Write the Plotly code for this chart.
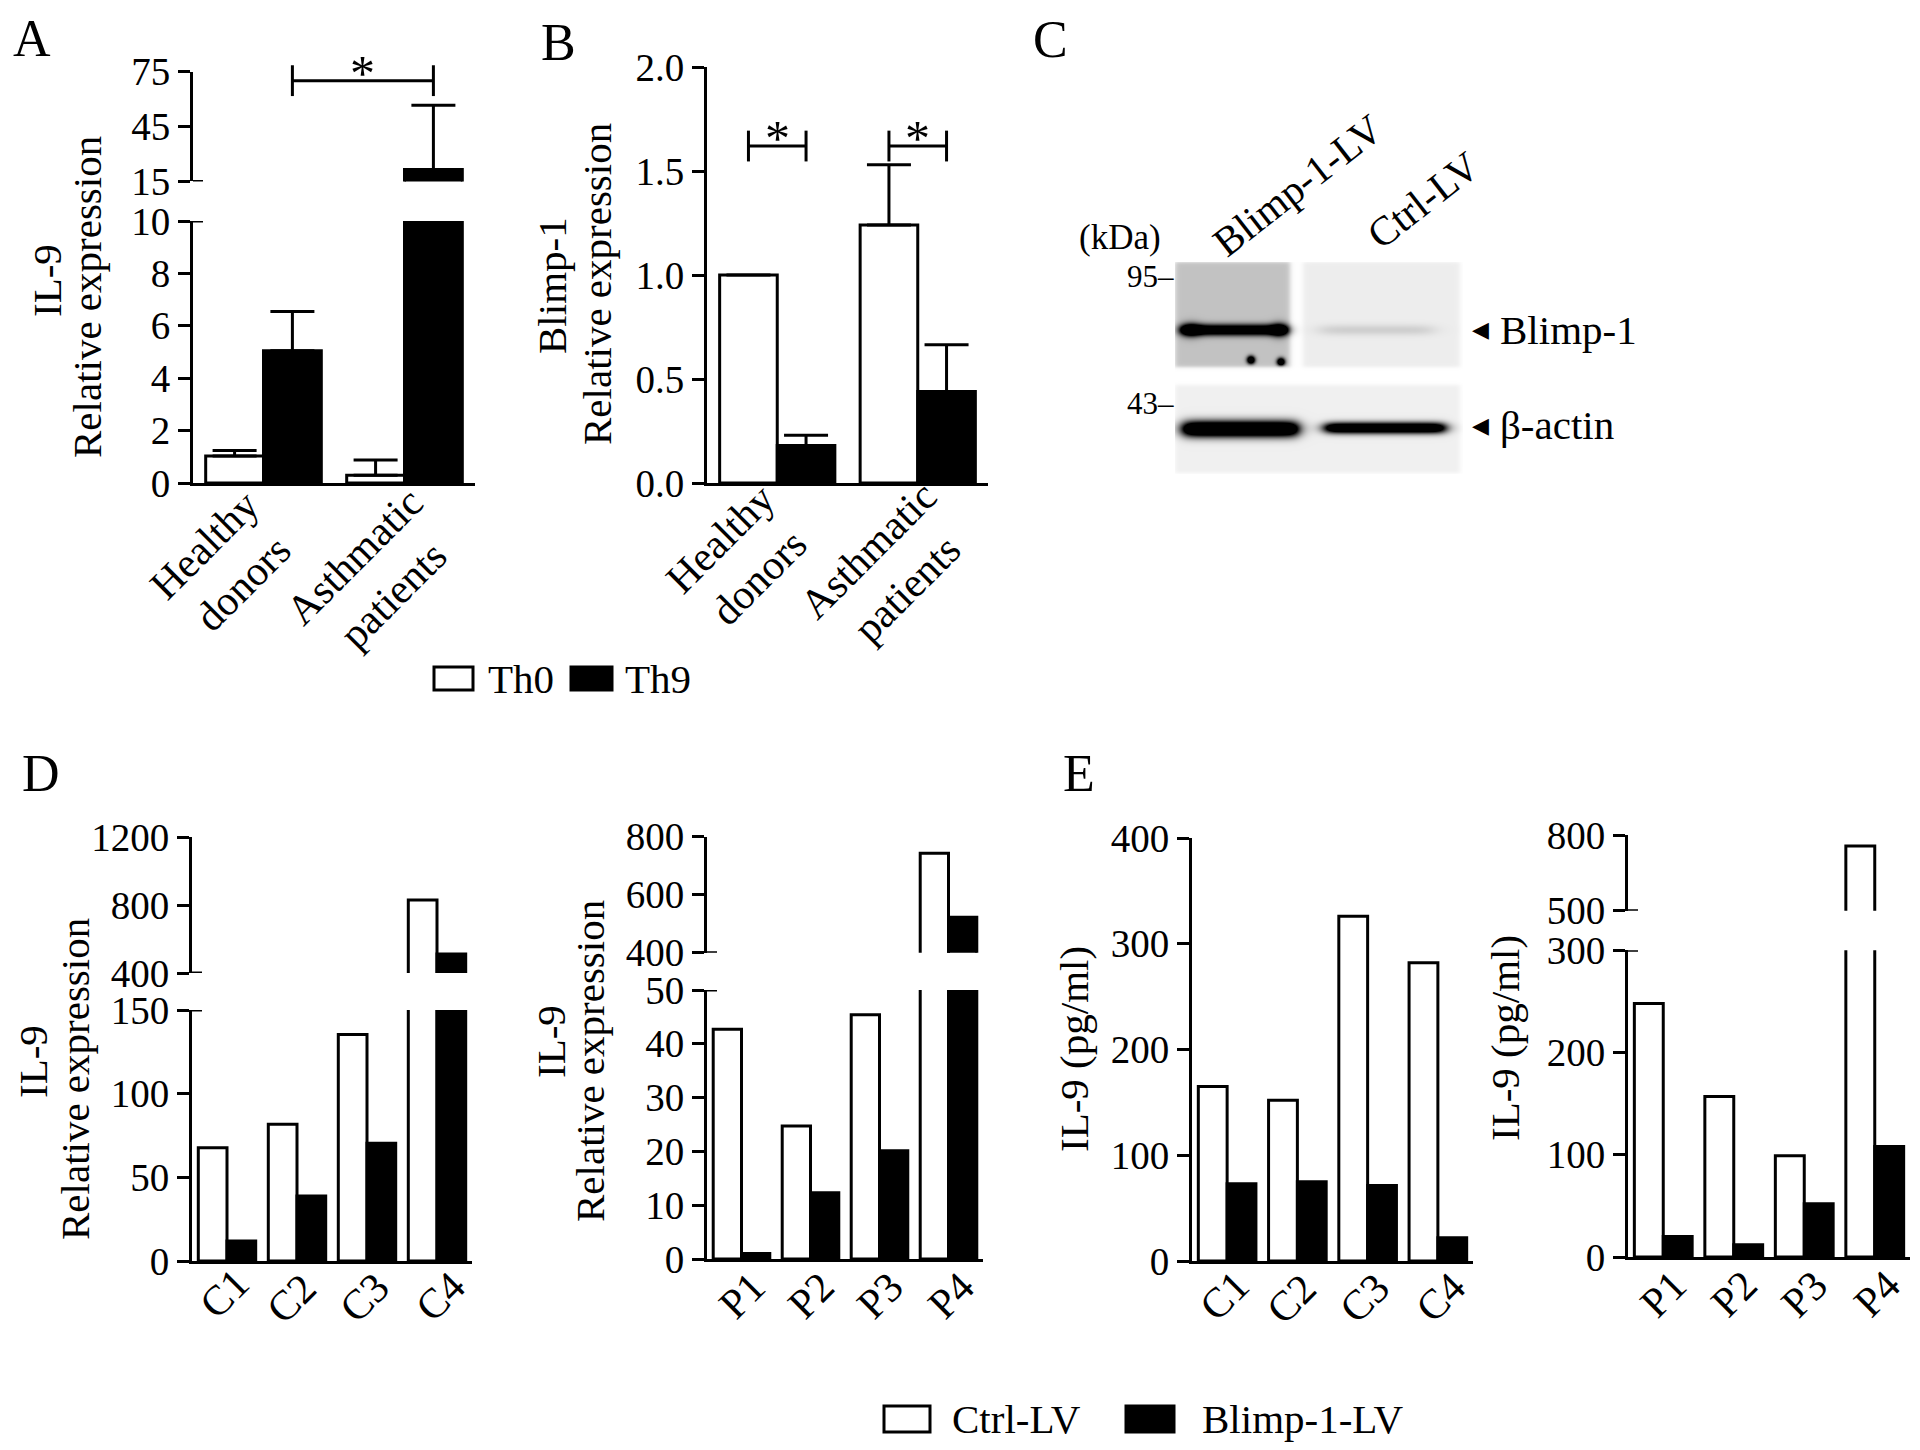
import numpy as np
import plotly.graph_objects as go

# The page body adds an 8 px margin, so the figure is sized to fill the
# 1920x1450 window exactly and all screen positions are converted below.
SCREEN_W, SCREEN_H = 1920, 1450
OFF = 8
W, H = SCREEN_W - 2 * OFF, SCREEN_H - 2 * OFF
FONT = "Liberation Serif"

# ---------------- data ----------------
groups_AB = ["Healthy<br>donors", "Asthmatic<br>patients"]
il9_th0 = [1.03, 0.30]
il9_th0_top = [1.24, 0.88]
il9_th9 = [5.05, 21.5]
il9_th9_top = [6.55, 56.6]
sig_A_y = 70

blimp_th0 = [1.0, 1.24]
blimp_th0_top = [1.0, 1.53]
blimp_th9 = [0.18, 0.44]
blimp_th9_top = [0.23, 0.665]
sig_B_y = 1.62

controls = ["C1", "C2", "C3", "C4"]
patients = ["P1", "P2", "P3", "P4"]
D_ctrl_C = [67.7, 81.7, 135.3, 829]
D_blimp_C = [12.0, 38.8, 70.3, 512]
D_ctrl_P = [42.7, 24.7, 45.4, 742]
D_blimp_P = [1.0, 12.3, 20.1, 522]
E_ctrl_C = [165, 152, 326, 282]
E_blimp_C = [73, 75, 71.5, 22]
E_ctrl_P = [248, 157, 99, 758]
E_blimp_P = [20, 12, 52, 108]

blot_lanes = ["Blimp-1-LV", "Ctrl-LV"]
blot_blimp1 = [0.95, 0.12]
blot_actin = [1.0, 0.9]

# ---------------- helpers ----------------
def px(sx):
    return (sx - OFF) / W

def py(sy):
    return 1 - (sy - OFF) / H

def dom_x(a, b):
    return [px(a), px(b)]

def dom_y(top, bottom):
    return [py(bottom), py(top)]

TICK = 39
LAB = 42
TITLE = 41
tickfont = dict(family=FONT, size=TICK, color="black")

def yax(domain_px, rng, tickvals, anchor, fmt=None):
    d = dict(domain=dom_y(*domain_px), range=rng, tickvals=tickvals, anchor=anchor,
             showline=True, linewidth=3, linecolor="black", ticks="outside", ticklen=12,
             tickwidth=3, tickcolor="black", tickfont=tickfont, showgrid=False,
             zeroline=False, fixedrange=True, automargin=False)
    if fmt:
        d["tickformat"] = fmt
    return d

def xax(domain_px, cats, anchor):
    return dict(domain=dom_x(*domain_px), range=[-0.5, len(cats) - 0.5],
                tickvals=list(range(len(cats))), showticklabels=False, anchor=anchor,
                showline=True, linewidth=3, linecolor="black", ticks="",
                showgrid=False, zeroline=False, fixedrange=True, automargin=False)

BAR_W = 0.41
fig = go.Figure()

def bars(xa, ya, vals, fill, top=None):
    n = len(vals)
    offset = -BAR_W if fill == "white" else 0
    tr = go.Bar(x=list(range(n)), y=vals, width=BAR_W, offset=offset,
                xaxis=xa, yaxis=ya,
                marker=dict(color=fill, line=dict(color="black", width=3)),
                showlegend=False, hoverinfo="skip")
    if top is not None:
        tr.error_y = dict(type="data", symmetric=False,
                          array=[t - v for t, v in zip(top, vals)],
                          arrayminus=[0] * n, color="black", thickness=3, width=22)
    fig.add_trace(tr)

def bracket(xa, ya, x0, x1, y):
    fig.add_trace(go.Scatter(x=[x0, x1], y=[y, y], xaxis=xa, yaxis=ya,
                             mode="lines+markers", line=dict(color="black", width=3),
                             marker=dict(symbol="line-ns", size=22,
                                         line=dict(color="black", width=3)),
                             cliponaxis=False, showlegend=False, hoverinfo="skip"))
    fig.add_annotation(x=(x0 + x1) / 2, y=y, xref=xa, yref=ya, text="*",
                       showarrow=False, font=dict(family=FONT, size=50, color="black"),
                       yanchor="middle", yshift=8)

half = BAR_W / 2

# ---- Panel A (broken axis) ----
for ya in ["y", "y2"]:
    bars("x", ya, il9_th0, "white", il9_th0_top)
    bars("x", ya, il9_th9, "black", il9_th9_top)
bracket("x", "y2", 0 + half, 1 + half, sig_A_y)

# ---- Panel B ----
bars("x2", "y3", blimp_th0, "white", blimp_th0_top)
bars("x2", "y3", blimp_th9, "black", blimp_th9_top)
bracket("x2", "y3", 0 - half, 0 + half, sig_B_y)
bracket("x2", "y3", 1 - half, 1 + half, sig_B_y)

# ---- Panel D ----
for ya in ["y4", "y5"]:
    bars("x3", ya, D_ctrl_C, "white")
    bars("x3", ya, D_blimp_C, "black")
for ya in ["y6", "y7"]:
    bars("x4", ya, D_ctrl_P, "white")
    bars("x4", ya, D_blimp_P, "black")

# ---- Panel E ----
bars("x5", "y8", E_ctrl_C, "white")
bars("x5", "y8", E_blimp_C, "black")
for ya in ["y9", "y10"]:
    bars("x6", ya, E_ctrl_P, "white")
    bars("x6", ya, E_blimp_P, "black")

# ---- Panel C blot (rendered image) ----
bw, bh = 288, 212
u = np.arange(bw) + 0.5
v = np.arange(bh) + 0.5
U, V = np.meshgrid(u, v)

def sig(t):
    return 1 / (1 + np.exp(-t))

def hbox(lo, hi, s=1.5):
    return sig((U - lo) / s) * sig((hi - U) / s)

def vbox(lo, hi, s=1.0):
    return sig((V - lo) / s) * sig((hi - V) / s)

up = vbox(0, 105)
lo = vbox(123, 211)
z = 0.24 * hbox(0, 115) * up + 0.07 * hbox(128, 285) * up
bandB = np.exp(-((V - 68) / 5.5) ** 2)
z += blot_blimp1[0] * 1.3 * hbox(6, 113, 3) * bandB
z += 0.5 * (np.exp(-((U - 16) / 10) ** 2) + np.exp(-((U - 104) / 8) ** 2)) * np.exp(-((V - 68) / 7.5) ** 2)
z += blot_blimp1[1] * hbox(145, 258, 6) * bandB
z += 1.4 * (np.exp(-((U - 76) ** 2 + (V - 98) ** 2) / 16) + np.exp(-((U - 106) ** 2 + (V - 100) ** 2) / 16)) * up
z += 0.06 * hbox(0, 285) * lo
z += blot_actin[0] * 1.7 * hbox(8, 123, 4) * np.exp(-((V - 167) / 8) ** 2)
z += blot_actin[1] * 1.7 * hbox(150, 270, 4) * np.exp(-((V - 166) / 5.5) ** 2)
z = np.round(np.clip(z, 0, 1), 3)
fig.add_trace(go.Heatmap(z=z, x=u, y=v, xaxis="x7", yaxis="y11", zmin=0, zmax=1,
                         colorscale=[[0, "#ffffff"], [1, "#000000"]], showscale=False,
                         hoverinfo="skip"))

# ---------------- layout ----------------
layout = dict(
    template="none",
    width=W, height=H, margin=dict(l=0, r=0, t=0, b=0, pad=0, autoexpand=False),
    paper_bgcolor="white", plot_bgcolor="white", showlegend=False,
    font=dict(family=FONT, color="black"),
    xaxis=xax((193, 475), groups_AB, "y"),
    yaxis=yax((221, 483), [0, 10], [0, 2, 4, 6, 8, 10], "x"),
    yaxis2=yax((71.5, 181.4), [15, 75], [15, 45, 75], "x"),
    xaxis2=xax((707, 988), groups_AB, "y3"),
    yaxis3=yax((67, 483), [0, 2], [0, 0.5, 1, 1.5, 2], "x2", ".1f"),
    xaxis3=xax((192, 472), controls, "y4"),
    yaxis4=yax((1010, 1261), [0, 150], [0, 50, 100, 150], "x3"),
    yaxis5=yax((837, 973), [400, 1200], [400, 800, 1200], "x3"),
    xaxis4=xax((707, 983), patients, "y6"),
    yaxis6=yax((990, 1259), [0, 50], [0, 10, 20, 30, 40, 50], "x4"),
    yaxis7=yax((836.5, 952.8), [400, 800], [400, 600, 800], "x4"),
    xaxis5=xax((1192, 1473), controls, "y8"),
    yaxis8=yax((838, 1261), [0, 400], [0, 100, 200, 300, 400], "x5"),
    xaxis6=xax((1628, 1910), patients, "y9"),
    yaxis9=yax((950.3, 1257), [0, 300], [0, 100, 200, 300], "x6"),
    yaxis10=yax((835.4, 910.8), [500, 800], [500, 800], "x6"),
    xaxis7=dict(domain=dom_x(1175, 1463), range=[0, bw], visible=False, anchor="y11",
                fixedrange=True, automargin=False),
    yaxis11=dict(domain=dom_y(262, 474), range=[bh, 0], visible=False, anchor="x7",
                 fixedrange=True, automargin=False),
)
fig.update_layout(**layout)

# break marks (tick crossing the axis at each break)
breaks = [("x", "y", 10), ("x", "y2", 15), ("x3", "y4", 150), ("x3", "y5", 400),
          ("x4", "y6", 50), ("x4", "y7", 400), ("x6", "y9", 300), ("x6", "y10", 500)]
for xa, ya, val in breaks:
    fig.add_shape(type="line", xref=xa, yref=ya, xsizemode="pixel", xanchor=-0.5,
                  x0=0, x1=10, y0=val, y1=val, line=dict(color="black", width=3))

def ann(x, y, text, size=TITLE, angle=0, xanchor="center", yanchor="middle"):
    fig.add_annotation(x=px(x), y=py(y), xref="paper", yref="paper", text=text,
                       showarrow=False, textangle=angle, xanchor=xanchor, yanchor=yanchor,
                       font=dict(family=FONT, size=size, color="black"))

def xlabels(xa, cats, shifts, ys):
    for i, c in enumerate(cats):
        fig.add_annotation(x=i, xref=xa, y=py(ys[i]), yref="paper", text=c,
                           xshift=shifts[i], showarrow=False, textangle=-45, align="center",
                           xanchor="center", yanchor="middle",
                           font=dict(family=FONT, size=LAB, color="black"))

# category labels (rotated)
xlabels("x", groups_AB, [-40, -30], [564, 576])
xlabels("x2", groups_AB, [-38, -30], [558, 569])
xlabels("x3", controls, [-3, -6, -3, 3], [1294, 1299, 1298, 1297])
xlabels("x4", patients, [0, 0, 0, 2], [1296, 1296, 1296, 1296])
xlabels("x5", controls, [-3, -6, -3, 3], [1296, 1299, 1298, 1297])
xlabels("x6", patients, [0, 0, 0, 2], [1294, 1294, 1294, 1294])

# panel letters
for letter, x, y in [("A", 32, 38), ("B", 558, 42), ("C", 1050, 40), ("D", 41, 773), ("E", 1079, 773)]:
    ann(x, y, letter, size=52)

# y-axis titles
ann(47, 281, "IL-9", angle=-90)
ann(87, 297, "Relative expression", angle=-90)
ann(552, 286, "Blimp-1", angle=-90)
ann(597, 284, "Relative expression", angle=-90)
ann(33, 1062, "IL-9", angle=-90)
ann(75, 1079, "Relative expression", angle=-90)
ann(551, 1042, "IL-9", angle=-90)
ann(590, 1061, "Relative expression", angle=-90)
ann(1074, 1049, "IL-9 (pg/ml)", angle=-90)
ann(1505, 1038, "IL-9 (pg/ml)", angle=-90)

# blot labels
ann(1120, 237, "(kDa)", size=35)
ann(1176, 277, "95–", size=31, xanchor="right")
ann(1176, 403, "43–", size=31, xanchor="right")
ann(1298, 185, blot_lanes[0], size=41, angle=-38)
ann(1423, 200, blot_lanes[1], size=41, angle=-38)
ann(1480, 330, "◀", size=22)
ann(1480, 425, "◀", size=22)
ann(1498, 330, "Blimp-1", size=41, xanchor="left")
ann(1498, 425, "β-actin", size=41, xanchor="left")

# legends
def key(x0, x1, y0, y1, fill):
    fig.add_shape(type="rect", xref="paper", yref="paper", x0=px(x0), x1=px(x1),
                  y0=py(y1), y1=py(y0), fillcolor=fill,
                  line=dict(color="black", width=3))

key(434, 473, 667, 690, "white")
ann(486, 679, "Th0", size=41, xanchor="left")
key(571, 612, 667, 690, "black")
ann(623, 679, "Th9", size=41, xanchor="left")

key(884, 930, 1406, 1432, "white")
ann(950, 1419, "Ctrl-LV", size=41, xanchor="left")
key(1126, 1174, 1406, 1432, "black")
ann(1200, 1419, "Blimp-1-LV", size=41, xanchor="left")

fig.write_html("out.html")
